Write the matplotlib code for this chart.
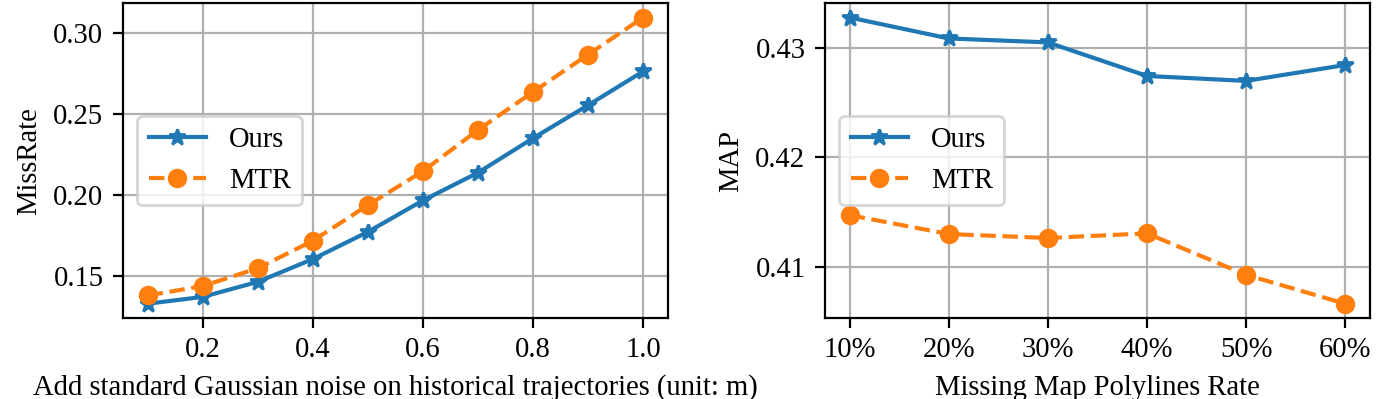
import numpy as np
import matplotlib.pyplot as plt

plt.rcParams['font.family'] = ['Liberation Serif', 'DejaVu Serif']
plt.rcParams['font.size'] = 10.3

# Left panel: noise on historical trajectories
noise = [0.1, 0.2, 0.3, 0.4, 0.5, 0.6, 0.7, 0.8, 0.9, 1.0]
ours_miss = [0.1328, 0.1370, 0.1463, 0.1604, 0.1772, 0.1966, 0.2138, 0.2351, 0.2555, 0.2764]
mtr_miss = [0.1379, 0.1437, 0.1547, 0.1717, 0.1937, 0.2147, 0.2402, 0.2637, 0.2868, 0.3097]

# Right panel: missing map polylines
missing_rate = [10, 20, 30, 40, 50, 60]
ours_map = [0.43276, 0.43085, 0.43049, 0.42743, 0.42698, 0.42843]
mtr_map = [0.41474, 0.41302, 0.41266, 0.41308, 0.40930, 0.40667]

fig, (ax1, ax2) = plt.subplots(1, 2, figsize=(1381 / 200, 399 / 200), dpi=200)
fig.subplots_adjust(left=0.089, right=0.992, top=0.992, bottom=0.203, wspace=0.288)

ax1.plot(noise, ours_miss, '-', marker='*', color='tab:blue', label='Ours')
ax1.plot(noise, mtr_miss, '--', marker='o', color='tab:orange', label='MTR')
ax1.set_xticks([0.2, 0.4, 0.6, 0.8, 1.0])
ax1.set_yticks([0.15, 0.20, 0.25, 0.30])
ax1.set_xlabel('Add standard Gaussian noise on historical trajectories (unit: m)')
ax1.set_ylabel('MissRate')
ax1.grid(True)
ax1.legend(loc='center left')

ax2.plot(missing_rate, ours_map, '-', marker='*', color='tab:blue', label='Ours')
ax2.plot(missing_rate, mtr_map, '--', marker='o', color='tab:orange', label='MTR')
ax2.set_xticks(missing_rate)
ax2.set_xticklabels([f'{v}%' for v in missing_rate])
ax2.set_yticks([0.41, 0.42, 0.43])
ax2.set_xlabel('Missing Map Polylines Rate')
ax2.set_ylabel('MAP')
ax2.grid(True)
ax2.legend(loc='center left')

fig.savefig('out.png', dpi=200)
